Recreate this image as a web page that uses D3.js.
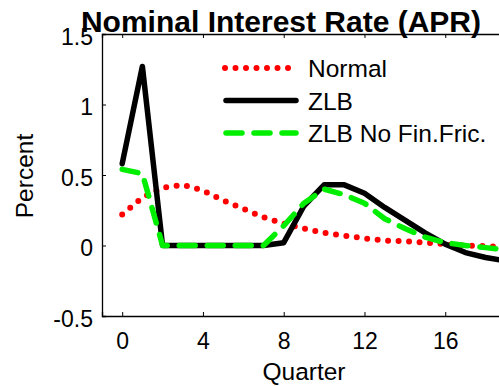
<!DOCTYPE html>
<html>
<head>
<meta charset="utf-8">
<script src="https://cdn.jsdelivr.net/npm/d3@7"></script>
<style>
body { margin: 0; background: #fff; }
text { font-family: "Liberation Sans", Arial, sans-serif; }
</style>
</head>
<body>
<script>
(function(){
'use strict';

var quarters = [0,1,2,3,4,5,6,7,8,9,10,11,12,13,14,15,16,17,18,19,20];
var normal = [0.22,0.34,0.41,0.43,0.39,0.32,0.26,0.20,0.155,0.12,0.09,0.07,0.05,0.035,0.03,0.02,0.01,0.0,-0.005,-0.01,-0.015];
var zlb = [0.58,1.27,0,0,0,0,0,0,0.02,0.28,0.43,0.43,0.37,0.27,0.18,0.09,0.01,-0.05,-0.085,-0.11,-0.13];
var zlbNoFF = [0.54,0.51,0,0,0,0,0,0,0.14,0.30,0.40,0.36,0.30,0.19,0.12,0.06,0.02,0.0,-0.015,-0.03,-0.04];
var xTicks = [0,4,8,12,16];
var yTicks = [-0.5,0,0.5,1,1.5];
var seriesNames = ['Normal','ZLB','ZLB No Fin.Fric.'];

var W = 499, H = 386;
var svg = d3.select('body').append('svg')
	.attr('width', W)
	.attr('height', H);

var x = d3.scaleLinear().domain([-1, 20]).range([102, 526]);
var y = d3.scaleLinear().domain([-0.5, 1.5]).range([316, 34]);

svg.append('defs').append('clipPath').attr('id', 'plot')
	.append('rect').attr('x', 102).attr('y', 34).attr('width', 424).attr('height', 282);

var styles = [
	{color: '#ff0000', width: 6, dash: '0 10.5', cap: 'round'},
	{color: '#000000', width: 5.5, dash: null, cap: 'round'},
	{color: '#00ee00', width: 5.5, dash: '16 12', cap: 'round'}
];
var data = [normal, zlb, zlbNoFF];

var line = d3.line()
	.x(function(d, i){ return x(quarters[i]); })
	.y(function(d){ return y(d); });

// axes
var axB = svg.append('g').attr('transform', 'translate(0,316)')
	.call(d3.axisBottom(x).tickValues(xTicks).tickSize(-4).tickPadding(17).tickFormat(d3.format('d')));
var axT = svg.append('g').attr('transform', 'translate(0,34)')
	.call(d3.axisTop(x).tickValues(xTicks).tickSize(-4).tickFormat(''));
var axL = svg.append('g').attr('transform', 'translate(102,0)')
	.call(d3.axisLeft(y).tickValues(yTicks).tickSize(-4).tickPadding(9).tickFormat(function(d){ return String(d); }));

[axB, axT, axL].forEach(function(a){
	a.select('.domain').attr('stroke', '#000').attr('stroke-width', 1.3);
	a.selectAll('.tick line').attr('stroke', '#000').attr('stroke-width', 1);
	a.selectAll('.tick text').attr('fill', '#000').style('font-size', '23px').style('font-family', '"Liberation Sans", Arial, sans-serif');
});
axL.selectAll('.tick text').attr('dy', '0.45em');

// lines
var g = svg.append('g').attr('clip-path', 'url(#plot)');
data.forEach(function(s, k){
	g.append('path')
		.datum(s)
		.attr('d', line)
		.attr('fill', 'none')
		.attr('stroke', styles[k].color)
		.attr('stroke-width', styles[k].width)
		.attr('stroke-linecap', styles[k].cap)
		.attr('stroke-linejoin', 'round')
		.attr('stroke-dasharray', styles[k].dash);
});

// legend
var leg = svg.append('g');
seriesNames.forEach(function(n, k){
	var ly = 68 + k * 32.5;
	leg.append('line')
		.attr('x1', k === 0 ? 225 : 226).attr('x2', 296)
		.attr('y1', ly).attr('y2', ly)
		.attr('stroke', styles[k].color)
		.attr('stroke-width', styles[k].width)
		.attr('stroke-linecap', styles[k].cap)
		.attr('stroke-dasharray', styles[k].dash);
	leg.append('text')
		.attr('x', 308).attr('y', ly + 9)
		.style('font-size', '24.5px')
		.text(n);
});

// labels
svg.append('text')
	.attr('x', 281).attr('y', 32)
	.attr('text-anchor', 'middle')
	.style('font-size', '30px').style('font-weight', 'bold')
	.text('Nominal Interest Rate (APR)');
svg.append('text')
	.attr('x', 304).attr('y', 380)
	.attr('text-anchor', 'middle')
	.style('font-size', '24.5px')
	.text('Quarter');
svg.append('text')
	.attr('transform', 'translate(33,176) rotate(-90)')
	.attr('text-anchor', 'middle')
	.style('font-size', '24.5px')
	.text('Percent');

})();
</script>
</body>
</html>
